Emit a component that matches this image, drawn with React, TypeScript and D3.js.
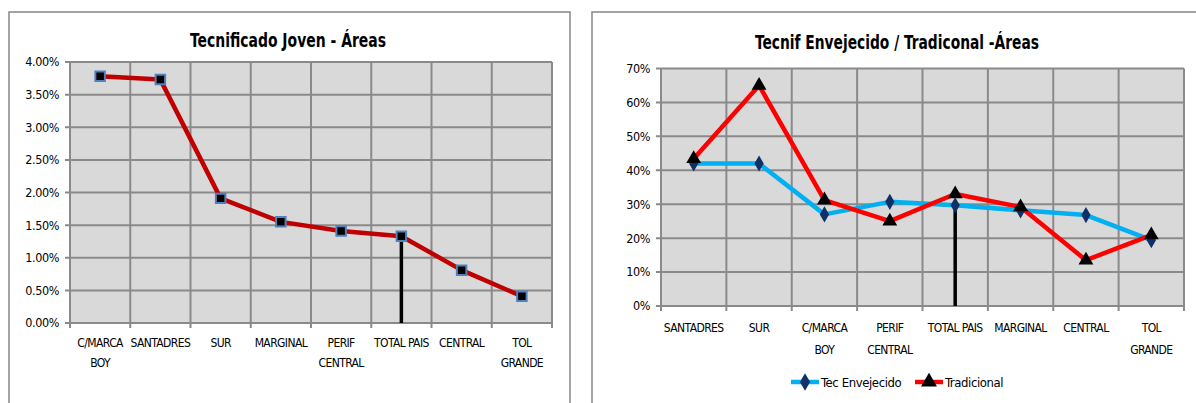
import { useEffect, useRef } from "react";
import * as d3 from "d3";

const W = 1196;
const H = 403;
const FONT = "'DejaVu Sans Condensed', 'Liberation Sans Narrow', sans-serif";

// Left chart: Tecnificado Joven
const jovenTitle = "Tecnificado Joven - Áreas";
const jovenCategories = ["C/MARCA\nBOY", "SANTADRES", "SUR", "MARGINAL", "PERIF\nCENTRAL", "TOTAL PAIS", "CENTRAL", "TOL\nGRANDE"];
const jovenValues = [0.0378, 0.0373, 0.0191, 0.0155, 0.0141, 0.0133, 0.0081, 0.0041];
const jovenTicks = [0, 0.005, 0.01, 0.015, 0.02, 0.025, 0.03, 0.035, 0.04];

// Right chart: Tecnif Envejecido / Tradicional
const envTitle = "Tecnif Envejecido / Tradiconal -Áreas";
const envCategories = ["SANTADRES", "SUR", "C/MARCA\nBOY", "PERIF\nCENTRAL", "TOTAL PAIS", "MARGINAL", "CENTRAL", "TOL\nGRANDE"];
const envejecido = [0.42, 0.42, 0.27, 0.307, 0.297, 0.282, 0.268, 0.194];
const tradicional = [0.434, 0.65, 0.312, 0.25, 0.33, 0.292, 0.135, 0.209];
const envTicks = [0, 0.1, 0.2, 0.3, 0.4, 0.5, 0.6, 0.7];
const seriesNames = ["Tec Envejecido", "Tradicional"];

const dropCategory = "TOTAL PAIS";

type Series = {
  values: number[];
  color: string;
  symbol: d3.SymbolType;
  size: number;
  fill: string;
  stroke: string;
};

type Panel = {
  box: [number, number, number, number];
  plot: [number, number, number, number];
  title: string;
  titleX: number;
  titleY: number;
  titleWidth: number;
  categories: string[];
  ticks: number[];
  format: (v: number) => string;
  series: Series[];
  dropValue: number;
  labelY: number;
  labelGap: number;
};

function drawPanel(root: d3.Selection<SVGGElement, unknown, null, undefined>, p: Panel) {
  const [bx0, by0, bx1, by1] = p.box;
  const [px0, py0, px1, py1] = p.plot;
  const g = root.append("g");

  g.append("rect")
    .attr("x", bx0).attr("y", by0)
    .attr("width", bx1 - bx0).attr("height", by1 - by0)
    .attr("fill", "#fff").attr("stroke", "#878787").attr("stroke-width", 1.5);

  // title, squeezed to the narrow look of the original
  g.append("text")
    .attr("x", p.titleX - p.titleWidth / 2).attr("y", p.titleY)
    .attr("textLength", p.titleWidth).attr("lengthAdjust", "spacingAndGlyphs")
    .attr("font-family", FONT).attr("font-weight", "bold").attr("font-size", 19.5)
    .text(p.title);

  const x = d3.scaleBand<string>().domain(p.categories).range([px0, px1]);
  const y = d3.scaleLinear().domain([0, d3.max(p.ticks) as number]).range([py1, py0]);

  g.append("rect")
    .attr("x", px0).attr("y", py0)
    .attr("width", px1 - px0).attr("height", py1 - py0)
    .attr("fill", "#d9d9d9");

  // horizontal grid + ticks
  g.selectAll(".hgrid").data(p.ticks).join("line")
    .attr("x1", px0 - 5).attr("x2", px1)
    .attr("y1", (d) => y(d)).attr("y2", (d) => y(d))
    .attr("stroke", "#8a8a8a").attr("stroke-width", 2);

  // vertical grid + ticks
  const bounds = [...p.categories.map((c) => x(c) as number), px1];
  g.selectAll(".vgrid").data(bounds).join("line")
    .attr("x1", (d) => d).attr("x2", (d) => d)
    .attr("y1", py0).attr("y2", py1 + 5)
    .attr("stroke", "#8a8a8a").attr("stroke-width", 2);

  // y labels
  g.selectAll(".ylab").data(p.ticks).join("text")
    .attr("x", px0 - 11).attr("y", (d) => y(d))
    .attr("dy", "0.35em").attr("text-anchor", "end")
    .attr("font-family", FONT).attr("font-size", 12.5).attr("letter-spacing", -0.4)
    .attr("fill", "#000")
    .text(p.format);

  // x labels
  const xl = g.selectAll(".xlab").data(p.categories).join("text")
    .attr("text-anchor", "middle")
    .attr("font-family", FONT).attr("font-size", 12).attr("letter-spacing", -0.6)
    .attr("fill", "#000");
  xl.each(function (c) {
    const t = d3.select(this);
    c.split("\n").forEach((line, i) => {
      t.append("tspan")
        .attr("x", (x(c) as number) + x.bandwidth() / 2)
        .attr("y", p.labelY + i * p.labelGap)
        .text(line);
    });
  });

  const cx = (i: number) => (x(p.categories[i]) as number) + x.bandwidth() / 2;

  // series lines
  p.series.forEach((s) => {
    const line = d3.line<number>().x((_, i) => cx(i)).y((d) => y(d));
    g.append("path")
      .attr("d", line(s.values) as string)
      .attr("fill", "none").attr("stroke", s.color)
      .attr("stroke-width", 4.5).attr("stroke-linejoin", "round");
  });

  // drop line
  const dx = (x(dropCategory) as number) + x.bandwidth() / 2;
  g.append("line")
    .attr("x1", dx).attr("x2", dx)
    .attr("y1", y(p.dropValue)).attr("y2", y(0))
    .attr("stroke", "#000").attr("stroke-width", 3.5);

  // markers
  p.series.forEach((s) => {
    const sym = d3.symbol().type(s.symbol).size(s.size);
    g.selectAll(null).data(s.values).join("path")
      .attr("d", sym() as string)
      .attr("transform", (d, i) => `translate(${cx(i)},${y(d)})`)
      .attr("fill", s.fill).attr("stroke", s.stroke).attr("stroke-width", 2);
  });

  return g;
}

const pctFixed = d3.format(".2%");
const pctInt = d3.format(".0%");

export default function App() {
  const ref = useRef<SVGSVGElement>(null);

  useEffect(() => {
    const svg = d3.select(ref.current);
    svg.selectAll("*").remove();
    const root = svg.append("g");

    drawPanel(root, {
      box: [9, 12, 570, 420],
      plot: [70, 62, 552, 323],
      title: jovenTitle,
      titleX: 288,
      titleY: 47,
      titleWidth: 196,
      categories: jovenCategories,
      ticks: jovenTicks,
      format: pctFixed,
      series: [
        { values: jovenValues, color: "#c00000", symbol: d3.symbolSquare, size: 90, fill: "#000", stroke: "#4f81bd" },
      ],
      dropValue: jovenValues[jovenCategories.indexOf(dropCategory)],
      labelY: 347,
      labelGap: 19.5,
    });

    const tradSeries: Series = { values: tradicional, color: "#ff0000", symbol: d3.symbolTriangle, size: 95, fill: "#000", stroke: "none" };
    const envSeries: Series = { values: envejecido, color: "#00b0f0", symbol: d3.symbolDiamond, size: 75, fill: "#10306a", stroke: "none" };

    const right = drawPanel(root, {
      box: [592, 12, 1210, 420],
      plot: [661, 68.5, 1184, 306],
      title: envTitle,
      titleX: 897,
      titleY: 49,
      titleWidth: 284,
      categories: envCategories,
      ticks: envTicks,
      format: pctInt,
      series: [envSeries, tradSeries],
      dropValue: envejecido[envCategories.indexOf(dropCategory)],
      labelY: 332,
      labelGap: 21.5,
    });

    // legend
    const legend = right.append("g").attr("transform", "translate(791,382)");
    const items = [envSeries, tradSeries];
    const offsets = [0, 124];
    items.forEach((s, i) => {
      const lg = legend.append("g").attr("transform", `translate(${offsets[i]},0)`);
      lg.append("line").attr("x1", 0).attr("x2", 28).attr("y1", 0).attr("y2", 0)
        .attr("stroke", s.color).attr("stroke-width", 4.5);
      lg.append("path").attr("d", d3.symbol().type(s.symbol).size(s.size + 15)() as string)
        .attr("transform", "translate(14,0)").attr("fill", s.fill);
      lg.append("text").attr("x", 30).attr("y", 0).attr("dy", "0.35em")
        .attr("font-family", FONT).attr("font-size", 13).attr("letter-spacing", -0.4)
        .text(seriesNames[i]);
    });
  }, []);

  return (
    <svg ref={ref} width={W} height={H} style={{ position: "absolute", left: 0, top: 0, background: "#fff" }} />
  );
}
